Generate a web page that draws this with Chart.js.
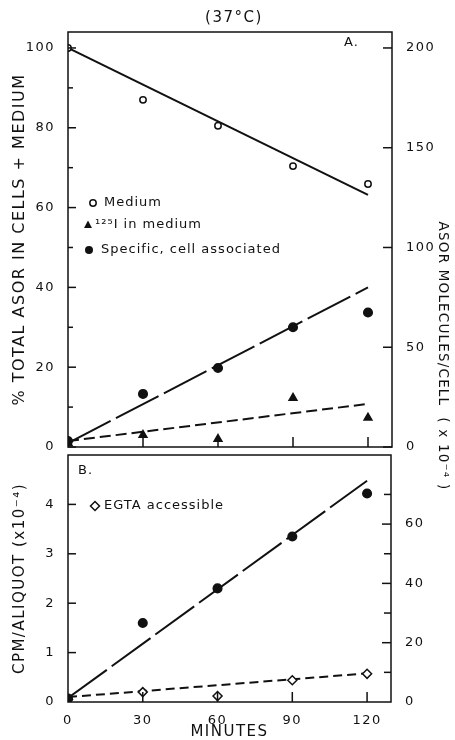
<!DOCTYPE html>
<html><head><meta charset="utf-8">
<script src="https://cdn.jsdelivr.net/npm/chart.js@4/dist/chart.umd.min.js"></script>
<style>
html,body{margin:0;padding:0;background:#fff;width:455px;height:740px;overflow:hidden}
canvas{position:absolute;left:0;top:0}
</style></head><body>
<canvas id="a" width="455" height="740"></canvas>
<canvas id="b" width="455" height="740"></canvas>
<script>
// ---- data ----
const minutes = [0, 30, 60, 90, 120];
const mediumPct = [100, 87, 80.5, 70.4, 65.9];
const iodideMediumPct = [1, 3, 2, 12.3, 7.3];
const specificPct = [1.5, 13.3, 19.8, 30, 33.7];
const fitMinutes = [0, 120];
const mediumFit = [100, 63.2];
const iodideFit = [1.5, 10.8];
const specificFit = [1, 40];
const cellAssocCpm = [0.07, 1.6, 2.3, 3.35, 4.22];
const egtaCpm = [0.05, 0.2, 0.12, 0.44, 0.57];
const cellAssocFit = [0.08, 4.48];
const egtaFit = [0.1, 0.58];
const ticksA = [0, 20, 40, 60, 80, 100];
const minorA = [10, 30, 50, 70, 90];
const ticksA2 = [0, 50, 100, 150, 200];
const ticksB = [0, 1, 2, 3, 4];
const ticksB2 = [0, 20, 40, 60];
const minorB2 = [10, 30, 50, 70];
const ticksX = [0, 30, 60, 90, 120];

const INK = '#111';
const FONT = 'DejaVu Sans';
const pts = (xs, ys) => xs.map((x, i) => ({x, y: ys[i]}));
const setTicks = arr => s => { s.ticks = arr.map(v => ({value: v})); };

const spacing = {
  id: 'spacing',
  beforeDraw(chart) { chart.ctx.letterSpacing = '1.5px'; }
};

const frame = {
  id: 'frame',
  afterDatasetsDraw(chart, args, opts) {
    const {ctx, chartArea: a, scales} = chart;
    ctx.save();
    ctx.strokeStyle = INK; ctx.lineWidth = 1.5;
    ctx.strokeRect(a.left, a.top, a.right - a.left, a.bottom - a.top);
    for (const t of opts.marks) {
      const s = scales[t.id];
      const groups = [[t.major, t.majorLen], [t.minor || [], t.minorLen || 5]];
      for (const [vals, len] of groups) {
        for (const v of vals) {
          const p = s.getPixelForValue(v);
          ctx.beginPath();
          if (t.side === 'left') { ctx.moveTo(a.left, p); ctx.lineTo(a.left + len, p); }
          else if (t.side === 'right') { ctx.moveTo(a.right, p); ctx.lineTo(a.right - len, p); }
          else { ctx.moveTo(p, a.bottom); ctx.lineTo(p, a.bottom - len); }
          ctx.stroke();
        }
      }
    }
    ctx.restore();
  }
};

function marker(ctx, kind, x, y) {
  ctx.save();
  ctx.lineWidth = 1.5; ctx.strokeStyle = INK; ctx.fillStyle = INK;
  ctx.beginPath();
  if (kind === 'open') { ctx.arc(x, y, 3.2, 0, Math.PI * 2); ctx.fillStyle = '#fff'; ctx.fill(); ctx.stroke(); }
  else if (kind === 'dot') { ctx.arc(x, y, 4, 0, Math.PI * 2); ctx.fill(); }
  else if (kind === 'tri') { ctx.moveTo(x, y - 4.5); ctx.lineTo(x + 4, y + 3); ctx.lineTo(x - 4, y + 3); ctx.closePath(); ctx.fill(); }
  else if (kind === 'diamond') { ctx.moveTo(x, y - 4.5); ctx.lineTo(x + 4.5, y); ctx.lineTo(x, y + 4.5); ctx.lineTo(x - 4.5, y); ctx.closePath(); ctx.fillStyle = '#fff'; ctx.fill(); ctx.stroke(); }
  ctx.restore();
}

const notes = {
  id: 'notes',
  afterDraw(chart, args, opts) {
    const ctx = chart.ctx;
    ctx.save();
    ctx.fillStyle = INK;
    for (const t of opts.items) {
      if (t.marker) { marker(ctx, t.marker, t.x, t.y); continue; }
      ctx.save();
      ctx.font = (t.size || 13) + 'px "' + FONT + '"';
      ctx.letterSpacing = (t.sp == null ? 1 : t.sp) + 'px';
      ctx.textAlign = t.align || 'left';
      ctx.textBaseline = 'middle';
      ctx.translate(t.x, t.y);
      if (t.rot) ctx.rotate(t.rot);
      ctx.fillText(t.text, 0, 0);
      ctx.restore();
    }
    ctx.restore();
  }
};

const common = {
  responsive: false, animation: false, devicePixelRatio: 1,
  plugins: {legend: {display: false}, tooltip: {enabled: false}}
};
Chart.defaults.font.family = FONT;
Chart.defaults.color = INK;

const fitLine = (data, dash, yAxisID) => ({
  type: 'line', data, yAxisID, borderColor: INK, borderWidth: 2, borderDash: dash,
  pointRadius: 0, fill: false, order: 2
});
const scatter = (data, style, radius, filled, yAxisID) => ({
  type: 'line', showLine: false, data, yAxisID, pointStyle: style, pointRadius: radius,
  pointBorderWidth: 1.5, pointBorderColor: INK, pointBackgroundColor: filled ? INK : '#fff', order: 1
});
const tickFont = {size: 13, family: FONT};

new Chart(document.getElementById('a'), {
  type: 'line',
  data: {datasets: [
    fitLine(pts(fitMinutes, mediumFit), [], 'y'),
    fitLine(pts(fitMinutes, iodideFit), [11, 5], 'y'),
    fitLine(pts(fitMinutes, specificFit), [48, 6], 'y'),
    scatter(pts(minutes, mediumPct), 'circle', 3.2, false, 'y'),
    scatter(pts(minutes, iodideMediumPct), 'triangle', 4.5, true, 'y'),
    scatter(pts(minutes, specificPct), 'circle', 4.3, true, 'y')
  ]},
  options: {
    ...common,
    layout: {padding: {top: 32, left: 0, right: 0, bottom: 0}},
    scales: {
      x: {type: 'linear', min: 0, max: 129.6, grid: {display: false}, border: {display: false},
          ticks: {display: false}, afterBuildTicks: setTicks(ticksX), afterFit: s => { s.height = 293; }},
      y: {position: 'left', min: 0, max: 104, grid: {display: false}, border: {display: false},
          ticks: {font: tickFont, padding: 5}, afterBuildTicks: setTicks(ticksA), afterFit: s => { s.width = 68; },
          title: {display: true, text: '% TOTAL ASOR IN CELLS + MEDIUM', font: {size: 16, lineHeight: 1}, padding: {top: 12, bottom: 0}}},
      y2: {position: 'right', min: 0, max: 208, grid: {display: false}, border: {display: false},
          ticks: {font: tickFont, padding: 6}, afterBuildTicks: setTicks(ticksA2), afterFit: s => { s.width = 63; }}
    },
    plugins: {
      ...common.plugins,
      frame: {marks: [
        {id: 'y', side: 'left', major: ticksA, majorLen: 8, minor: minorA, minorLen: 5},
        {id: 'y2', side: 'right', major: ticksA2, majorLen: 9},
        {id: 'x', side: 'bottom', major: ticksX.slice(1), majorLen: 10}
      ]},
      notes: {items: [
        {text: '(37°C)', x: 234, y: 18, size: 15, align: 'center', sp: 1.5},
        {text: 'A.', x: 344, y: 43, size: 13},
        {marker: 'open', x: 93, y: 203},
        {text: 'Medium', x: 104, y: 203, size: 13},
        {marker: 'tri', x: 88, y: 225},
        {text: '¹²⁵I in medium', x: 95, y: 225, size: 13},
        {marker: 'dot', x: 89, y: 250},
        {text: 'Specific, cell associated', x: 101, y: 250, size: 13}
      ]}
    }
  },
  plugins: [spacing, frame, notes]
});

new Chart(document.getElementById('b'), {
  type: 'line',
  data: {datasets: [
    fitLine(pts(fitMinutes, cellAssocFit), [48, 6], 'y'),
    fitLine(pts(fitMinutes, egtaFit), [9, 5], 'y'),
    scatter(pts(minutes, cellAssocCpm), 'circle', 4.3, true, 'y'),
    scatter(pts(minutes, egtaCpm), 'rectRot', 4.5, false, 'y')
  ]},
  options: {
    ...common,
    layout: {padding: {top: 455, left: 0, right: 0, bottom: 0}},
    scales: {
      x: {type: 'linear', min: 0, max: 129.6, grid: {display: false}, border: {display: false},
          ticks: {font: tickFont, padding: 3}, afterBuildTicks: setTicks(ticksX), afterFit: s => { s.height = 38; },
          title: {display: true, text: 'MINUTES', font: {size: 15, lineHeight: 1}, padding: {top: 0, bottom: 0}}},
      y: {position: 'left', min: 0, max: 5, grid: {display: false}, border: {display: false},
          ticks: {font: tickFont, padding: 5}, afterBuildTicks: setTicks(ticksB), afterFit: s => { s.width = 68; },
          title: {display: true, text: 'CPM/ALIQUOT (x10⁻⁴)', font: {size: 15, lineHeight: 1}, padding: {top: 12.5, bottom: 0}}},
      y2: {position: 'right', min: 0, max: 83.3, grid: {display: false}, border: {display: false},
          ticks: {font: tickFont, padding: 6}, afterBuildTicks: setTicks(ticksB2), afterFit: s => { s.width = 64; }}
    },
    plugins: {
      ...common.plugins,
      frame: {marks: [
        {id: 'y', side: 'left', major: ticksB.slice(1), majorLen: 8},
        {id: 'y2', side: 'right', major: ticksB2.slice(1), majorLen: 9, minor: minorB2, minorLen: 7},
        {id: 'x', side: 'bottom', major: ticksX.slice(1), majorLen: 10}
      ]},
      notes: {items: [
        {text: 'B.', x: 78, y: 471, size: 13},
        {marker: 'diamond', x: 95, y: 506},
        {text: 'EGTA accessible', x: 104, y: 506, size: 13},
        {text: 'ASOR MOLECULES/CELL  ( x 10⁻⁴ )', x: 442, y: 356, size: 13.5, align: 'center', sp: 1.2, rot: Math.PI / 2}
      ]}
    }
  },
  plugins: [spacing, frame, notes]
});
</script>
</body></html>
